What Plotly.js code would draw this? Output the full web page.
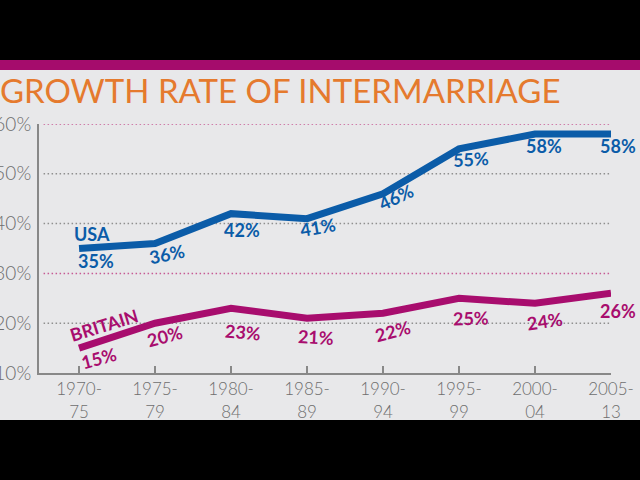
<!DOCTYPE html>
<html><head><meta charset="utf-8">
<script src="https://cdn.plot.ly/plotly-3.0.1.min.js"></script>
<style>html,body{margin:0;padding:0;background:#e8e8ea;overflow:hidden}</style>
</head><body>
<div id="chart" style="width:640px;height:480px"></div>
<script>
// ---- data ----
const periods = ['1970-<br>75','1975-<br>79','1980-<br>84','1985-<br>89','1990-<br>94','1995-<br>99','2000-<br>04','2005-<br>13'];
const usa = [35,36,42,41,46,55,58,58];
const britain = [15,20,23,21,22,25,24,26];
const yTicks = [10,20,30,40,50,60];
const yTickLabels = ['10%','20%','30%','40%','50%','60%'];
const seriesNames = ['USA','BRITAIN'];
const title = 'GROWTH RATE OF INTERMARRIAGE';

// ---- styles / label placement (pixels: dx right, dy down, angle) ----
const blue = '#0b5ca8', magenta = '#a80d6e';
const usaLabelPos = [[17,12,0],[12,10,-12],[11,16,0],[11,8,-10],[13,3,-25],[12,10,-3],[9,12,0],[7,12,0]];
const britLabelPos = [[20,10,-15],[10,13,-15],[12,24,5],[9,19,3],[10,18,-15],[12,20,-2],[10,18,-8],[7,18,0]];
const gridColor = {20:'#8f8f8f',30:'#c65a94',40:'#8f8f8f',50:'#8f8f8f',60:'#c65a94'};

const idx = periods.map((_, i) => i);
const traces = [
  {x: idx, y: usa, type:'scatter', mode:'lines', line:{color:blue, width:7}, hoverinfo:'skip', name:seriesNames[0]},
  {x: idx, y: britain, type:'scatter', mode:'lines', line:{color:magenta, width:7}, hoverinfo:'skip', name:seriesNames[1]}
];

const labelFont = (c) => ({family:'Lato, sans-serif', size:18, color:c, weight:700});
const annotations = [];
usa.forEach((v,i) => annotations.push({x:i, y:v, xref:'x', yref:'y', text:v+'%', showarrow:false,
  xshift:usaLabelPos[i][0], yshift:-usaLabelPos[i][1], textangle:usaLabelPos[i][2], font:labelFont(blue)}));
britain.forEach((v,i) => annotations.push({x:i, y:v, xref:'x', yref:'y', text:v+'%', showarrow:false,
  xshift:britLabelPos[i][0], yshift:-britLabelPos[i][1], textangle:britLabelPos[i][2], font:labelFont(magenta)}));
annotations.push({x:0, y:usa[0], xref:'x', yref:'y', text:seriesNames[0], showarrow:false, xshift:13, yshift:15, font:labelFont(blue)});
annotations.push({x:0, y:britain[0], xref:'x', yref:'y', text:seriesNames[1], showarrow:false, xshift:25, yshift:23, textangle:-17, font:labelFont(magenta)});

const shapes = [];
// top & bottom bands
shapes.push({type:'rect', xref:'paper', yref:'paper', x0:-0.2, x1:1.2, y0:1.257, y1:1.6, fillcolor:'#000', line:{width:0}, layer:'below'});
shapes.push({type:'rect', xref:'paper', yref:'paper', x0:-0.2, x1:1.2, y0:1.217, y1:1.257, fillcolor:'#a50c6c', line:{width:0}, layer:'below'});
shapes.push({type:'rect', xref:'paper', yref:'paper', x0:-0.2, x1:1.2, y0:-0.6, y1:-0.189, fillcolor:'#000', line:{width:0}, layer:'below'});
// dotted gridlines
yTicks.filter(t => t > yTicks[0]).forEach(t => shapes.push({type:'line', xref:'paper', yref:'y', x0:0.008, x1:1, y0:t, y1:t,
  line:{color:gridColor[t], width:1.5, dash:'1.5px,2.5px'}, layer:'below'}));

const layout = {
  width:640, height:480,
  margin:{l:39, r:29, t:124, b:107},
  paper_bgcolor:'#e8e8ea', plot_bgcolor:'#e8e8ea',
  showlegend:false,
  title:{text:title, xref:'container', yref:'container', x:0, xanchor:'left', y:0.81, yanchor:'middle',
    pad:{l:0, r:0, t:0, b:0},
    font:{family:'Lato, sans-serif', size:33, color:'#e57a2e', weight:400}},
  xaxis:{range:[-0.527, 7.0], tickvals:idx, ticktext:periods, ticks:'inside', ticklen:7, tickwidth:1.5, tickcolor:'#888',
    showline:true, linecolor:'#888', linewidth:2, showgrid:false, zeroline:false,
    tickfont:{family:'Lato, sans-serif', size:17, color:'#6e6e6e', weight:300}, fixedrange:true},
  yaxis:{range:[10,60], tickvals:yTicks, ticktext:yTickLabels, ticks:'', showline:true, linecolor:'#888', linewidth:2,
    showgrid:false, zeroline:false, ticklabelstandoff:2,
    tickfont:{family:'Lato, sans-serif', size:19, color:'#6e6e6e', weight:300}, fixedrange:true},
  annotations, shapes
};
Plotly.newPlot('chart', traces, layout, {staticPlot:true, displayModeBar:false});
</script>
</body></html>
